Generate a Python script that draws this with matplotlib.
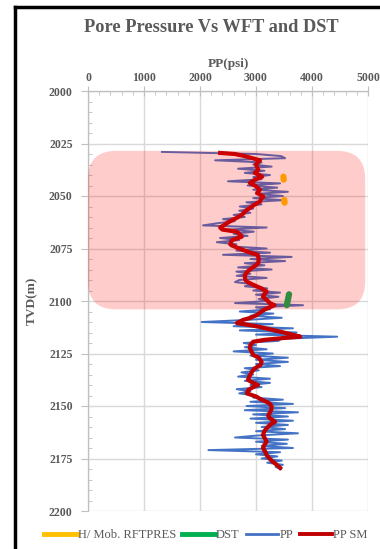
import numpy as np
import matplotlib
matplotlib.use("Agg")
import matplotlib.pyplot as plt
from matplotlib.patches import FancyBboxPatch
from matplotlib.lines import Line2D
from matplotlib.ticker import MultipleLocator

plt.rcParams['font.family'] = ['Liberation Serif', 'DejaVu Serif']

# ---- data ----
# raw pore pressure, one sample per metre of TVD
pp_depth = np.arange(2029, 2181, 1.0)
pp_psi = [
    1320, 3000, 3450, 3520, 2270, 3100, 2950, 3280, 2680, 3150,   # 2029-2038
    2800, 3250, 2950, 3100, 2500, 3430, 2850, 3380, 2950, 3570,   # 2039-2048
    3000, 3480, 2950, 3480, 2830, 3100, 2710, 2950, 2700, 2900,   # 2049-2058
    2600, 2800, 2410, 2620, 2300, 2054, 3190, 2500, 2960, 2600,   # 2059-2068
    2850, 2357, 2700, 2300, 2650, 2550, 3190, 2650, 3250, 2410,   # 2069-2078
    3637, 2900, 3520, 2800, 3150, 2680, 3280, 2650, 2900, 2655,   # 2079-2088
    3190, 2700, 2625, 2950, 2800, 3200, 2950, 3430, 3000, 3400,   # 2089-2098
    3050, 3200, 2625, 3840, 3000, 3250, 2710, 3310, 2900, 3460,   # 2099-2108
    2850, 2030, 3300, 2600, 3660, 2710, 3725, 3000, 4450, 3450,   # 2109-2118
    3400, 2780, 3000, 2800, 3190, 2600, 3300, 2900, 3570, 3000,   # 2119-2128
    3570, 3000, 3430, 2800, 3050, 2740, 2950, 2680, 3250, 2800,   # 2129-2138
    3250, 2900, 3100, 2655, 2900, 2700, 3000, 2950, 3480, 2900,   # 2139-2148
    3660, 2830, 3520, 2800, 3750, 2950, 3570, 2900, 3660, 3000,   # 2149-2158
    3570, 3100, 3520, 3000, 3750, 3050, 2625, 3570, 3000, 3550,   # 2159-2168
    3100, 3660, 2150, 3430, 3000, 3380, 3100, 3460, 3200, 3480,   # 2169-2178
    3350, 3450,                                                   # 2179-2180
]

# smoothed pore pressure
sm_depth = [2029.5, 2030, 2031, 2033, 2035, 2037.6, 2039, 2040.8, 2042, 2043.8,
            2045, 2047, 2048.5, 2050.3, 2051.5, 2052.7, 2054, 2055.7, 2057, 2059,
            2060.5, 2062, 2063.5, 2065, 2066, 2067, 2068, 2069.4, 2071, 2073,
            2074.5, 2075.7, 2077, 2078, 2080, 2082, 2083.5, 2085, 2086.5, 2088,
            2090, 2091, 2093, 2094, 2095.5, 2097, 2098, 2099.5, 2101, 2102,
            2103.5, 2104.5, 2106.7, 2108, 2109, 2110.5, 2112, 2113.5, 2114.6, 2116,
            2117, 2117.6, 2118.5, 2119.4, 2121, 2122.4, 2124, 2125.7, 2127, 2129,
            2130.5, 2131, 2132.5, 2134, 2136, 2137.6, 2139, 2140, 2141, 2142.4,
            2144, 2145.6, 2147, 2148, 2149, 2150.3, 2152, 2153, 2154.5, 2155.7,
            2157.5, 2159, 2160.6, 2162, 2163.8, 2165.5, 2167, 2168.5, 2170, 2171.5,
            2173.3, 2175, 2176.5, 2178, 2179.5]
sm_psi = [2360, 2620, 2800, 3070, 3000, 3040, 2980, 3110, 3000, 2890,
          2980, 3070, 3020, 3130, 3090, 3070, 2980, 2890, 2820, 2745,
          2650, 2540, 2450, 2360, 2400, 2655, 2700, 2745, 2570, 2540,
          2650, 2770, 2900, 3030, 3050, 3040, 2970, 2890, 2830, 2800,
          2810, 2850, 3010, 3100, 3190, 3140, 3125, 3190, 3250, 3330,
          3200, 3125, 3012, 2900, 2770, 2660, 3010, 3250, 3430, 3650,
          3790, 3500, 3150, 2950, 2900, 2890, 2920, 2950, 3050, 3100,
          3080, 3040, 2960, 2920, 2880, 2857, 2950, 3036, 2950, 2860,
          2840, 3010, 3100, 3190, 3250, 3280, 3270, 3250, 3220, 3240,
          3340, 3250, 3190, 3150, 3125, 3160, 3190, 3150, 3125, 3160,
          3190, 3240, 3300, 3370, 3430]

# wireline formation tester pressures (two short stations)
rft_depth = [2040.8, 2042.2, np.nan, 2051.8, 2053.2]
rft_psi = [3490, 3495, np.nan, 3505, 3510]

# drill stem test
dst_depth = [2096.8, 2102.0]
dst_psi = [3590, 3550]

# highlighted interval
zone_psi = (0, 4950)
zone_depth = (2028.5, 2104)

x_ticks = [0, 1000, 2000, 3000, 4000, 5000]
y_ticks = [2000, 2025, 2050, 2075, 2100, 2125, 2150, 2175, 2200]

C_RFT = '#FFC000'
C_DST = '#00B050'
C_PP = '#4472C4'
C_SM = '#C00000'
TXT = '#595959'
GRID = '#D9D9D9'

W, H, DPI = 380, 549, 100
fig = plt.figure(figsize=(W / DPI, H / DPI), dpi=DPI)
ax = fig.add_axes([88 / W, 38 / H, 280 / W, 420 / H])

ax.plot(pp_psi, pp_depth, color=C_PP, lw=1.4, zorder=3)
ax.plot(sm_psi, sm_depth, color=C_SM, lw=3.0, zorder=4)
ax.plot(rft_psi, rft_depth, color=C_RFT, lw=4.5, solid_capstyle='round', zorder=5)
ax.plot(dst_psi, dst_depth, color=C_DST, lw=4.5, solid_capstyle='round', zorder=5)

ax.set_xlim(x_ticks[0], x_ticks[-1])
ax.set_ylim(y_ticks[-1], y_ticks[0])
ax.xaxis.tick_top()
ax.xaxis.set_label_position('top')
ax.set_xticks(x_ticks)
ax.set_yticks(y_ticks)
ax.xaxis.set_minor_locator(MultipleLocator(200))
ax.yaxis.set_minor_locator(MultipleLocator(5))

ax.grid(True, which='major', color=GRID, lw=1.0, zorder=0)
ax.set_axisbelow(True)
for s in ('right', 'bottom'):
    ax.spines[s].set_visible(False)
for s in ('left', 'top'):
    ax.spines[s].set_color('#BFBFBF')
    ax.spines[s].set_linewidth(0.9)

ax.tick_params(axis='x', which='major', direction='inout', length=7, color='#BFBFBF',
               labelsize=8.5, labelcolor=TXT, pad=1.5)
ax.tick_params(axis='x', which='minor', direction='in', length=3, color='#BFBFBF')
ax.tick_params(axis='y', which='major', direction='out', length=5, color='#BFBFBF',
               labelsize=8.5, labelcolor=TXT, pad=6)
ax.tick_params(axis='y', which='minor', direction='in', length=3, color='#BFBFBF')
for lab in ax.get_xticklabels() + ax.get_yticklabels():
    lab.set_fontweight('bold')

ax.set_xlabel('PP(psi)', fontsize=9.5, fontweight='bold', color=TXT, labelpad=4)
ax.set_ylabel('TVD(m)', fontsize=9.5, fontweight='bold', color=TXT, labelpad=8)

fig.text(211 / W, 1 - 27 / H, 'Pore Pressure Vs WFT and DST', ha='center', va='center',
         fontsize=13.2, fontweight='bold', color=TXT)

# rounded highlight box, built in pixel space from the data limits
fig.canvas.draw()
(x0, y0) = ax.transData.transform((zone_psi[0], zone_depth[1]))
(x1, y1) = ax.transData.transform((zone_psi[1], zone_depth[0]))
r = 28
box = FancyBboxPatch((x0 + r, y0 + r), (x1 - x0) - 2 * r, (y1 - y0) - 2 * r,
                     boxstyle=f'round,pad={r},rounding_size={r}',
                     transform=None, facecolor=(1, 0, 0), alpha=0.2,
                     edgecolor='none', zorder=6)
fig.patches.append(box)
box.set_figure(fig)

# outer frame (top and left)
fig.add_artist(Line2D([15 / W, 1], [1 - 7 / H, 1 - 7 / H], color='black', lw=2.5,
                      transform=fig.transFigure))
fig.add_artist(Line2D([15 / W, 15 / W], [0, 1 - 7 / H], color='black', lw=2.5,
                      transform=fig.transFigure))

handles = [Line2D([], [], color=C_RFT, lw=3.5),
           Line2D([], [], color=C_DST, lw=3.5),
           Line2D([], [], color=C_PP, lw=2.0),
           Line2D([], [], color=C_SM, lw=2.8)]
labels = ['H/ Mob. RFTPRES', 'DST', 'PP', 'PP SM']
leg = fig.legend(handles, labels, loc='center', bbox_to_anchor=(0.542, 14 / H), ncol=4,
                 frameon=False, fontsize=9, handlelength=2.6, handletextpad=0.1,
                 columnspacing=0.5, labelcolor=TXT)

fig.savefig('out.png', dpi=DPI)
